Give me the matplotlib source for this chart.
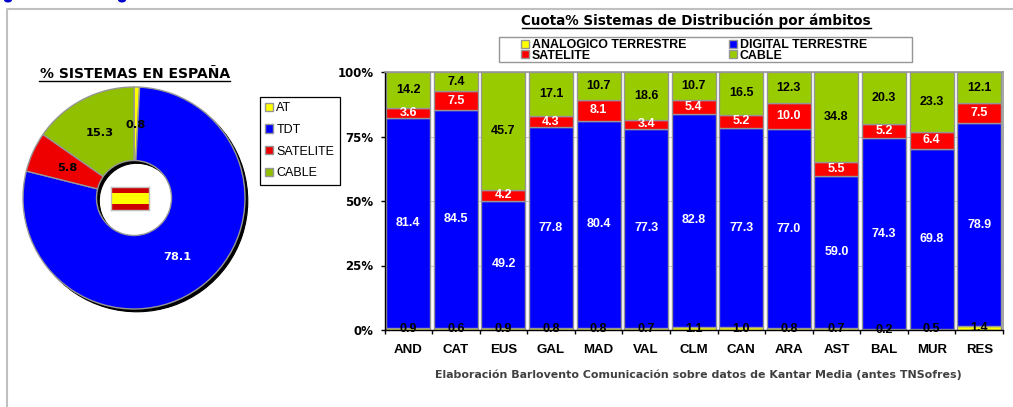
import matplotlib
matplotlib.use("Agg")
import matplotlib.pyplot as plt
from matplotlib.patches import Rectangle, Ellipse
import numpy as np

W, H = 1013, 407

# pie data
pie_labels = ["AT", "TDT", "SATELITE", "CABLE"]
pie_values = [0.8, 78.1, 5.8, 15.3]

# stacked bars data
regions = ["AND", "CAT", "EUS", "GAL", "MAD", "VAL", "CLM", "CAN", "ARA", "AST", "BAL", "MUR", "RES"]
analogico = [0.9, 0.6, 0.9, 0.8, 0.8, 0.7, 1.1, 1.0, 0.8, 0.7, 0.2, 0.5, 1.4]
digital = [81.4, 84.5, 49.2, 77.8, 80.4, 77.3, 82.8, 77.3, 77.0, 59.0, 74.3, 69.8, 78.9]
satelite = [3.6, 7.5, 4.2, 4.3, 8.1, 3.4, 5.4, 5.2, 10.0, 5.5, 5.2, 6.4, 7.5]
cable = [14.2, 7.4, 45.7, 17.1, 10.7, 18.6, 10.7, 16.5, 12.3, 34.8, 20.3, 23.3, 12.1]

YELLOW = "#ffff00"
BLUE = "#0000ff"
RED = "#ff0000"
GREEN = "#99cc00"
EDGE = "#969696"
SANS = "Liberation Sans"
WIDE = "DejaVu Sans"


def px_axes(fig, left, top, right, bottom, **kw):
    return fig.add_axes([left / W, 1 - bottom / H, (right - left) / W, (bottom - top) / H], **kw)


fig = plt.figure(figsize=(W / 100, H / 100), dpi=100)

# frame around the whole thing
fig.add_artist(plt.Line2D([7 / W, 7 / W, 1], [0, 1 - 9 / H, 1 - 9 / H], color="#c0c0c0", lw=1.5))

# blue scraps of the page above the frame
for gx in [8, 122]:
    fig.add_artist(Ellipse((gx / W, 1), 8 / W, 5 / H, transform=fig.transFigure, facecolor="#0000cc", linewidth=0))

# pie
cx, cy, rad = 134, 198, 111
axp = px_axes(fig, cx - 1.2 * rad, cy - 1.2 * rad, cx + 1.2 * rad, cy + 1.2 * rad)
ring = 1 - 37.5 / rad
axp.pie(pie_values, colors=["black"] * 4, startangle=90, counterclock=False, center=(0.025, -0.025),
        radius=1, wedgeprops=dict(width=ring, edgecolor="black", linewidth=0.8), frame=True)
wedges, texts, autotexts = axp.pie(
    pie_values, colors=[YELLOW, BLUE, "#ee0000", "#90c000"], startangle=90, counterclock=False, radius=1,
    wedgeprops=dict(width=ring, edgecolor=EDGE, linewidth=1.0),
    autopct="%.1f", pctdistance=0.66, frame=True,
    textprops=dict(fontsize=8.2, fontweight="bold", family=WIDE),
)
for t, c in zip(autotexts, ["black", "white", "black", "black"]):
    t.set_color(c)
axp.set_xlim(-1.2, 1.2)
axp.set_ylim(-1.2, 1.2)
axp.axis("off")

# flag in the hole
flag = px_axes(fig, 111, 187, 149, 210)
flag.set_xlim(0, 1)
flag.set_ylim(0, 1)
flag.set_xticks([])
flag.set_yticks([])
for s in flag.spines.values():
    s.set_color("#c0c0c0")
    s.set_linewidth(1)
flag.add_patch(Rectangle((0, 0), 1, 1, facecolor="#cc0000", linewidth=0))
flag.add_patch(Rectangle((0, 0.27), 1, 0.46, facecolor=YELLOW, linewidth=0))

fig.text(135 / W, 1 - 74 / H, "% SISTEMAS EN ESPAÑA", ha="center", va="center",
         fontsize=10, fontweight="bold", family=WIDE, color="black")
fig.add_artist(plt.Line2D([39 / W, 230 / W], [1 - 81 / H, 1 - 81 / H], color="black", lw=1))

leg1 = fig.legend(wedges, pie_labels, loc="upper left", bbox_to_anchor=(260 / W, 1 - 97 / H), borderaxespad=0,
                  prop=dict(family=SANS, size=9), fancybox=False, framealpha=1, edgecolor="black",
                  handlelength=0.64, handleheight=0.64, handletextpad=0.25, labelspacing=0.78,
                  borderpad=0.42)
leg1.get_frame().set_linewidth(0.9)
for h in leg1.legend_handles:
    h.set_edgecolor(EDGE)

# stacked bars
ax = px_axes(fig, 384.5, 72, 1003, 330)
x = np.arange(len(regions))
bottom = np.zeros(len(regions))
series = [analogico, digital, satelite, cable]
colors = [YELLOW, BLUE, RED, GREEN]
names = ["ANALOGICO TERRESTRE", "DIGITAL TERRESTRE", "SATELITE", "CABLE"]
txtcol = ["black", "white", "white", "black"]
handles = []
ax.set_axisbelow(True)
ax.grid(axis="y", color="#c0c0c0", lw=0.6)
for vals, col, name, tc in zip(series, colors, names, txtcol):
    vals = np.array(vals)
    bars = ax.bar(x, vals, 0.925, bottom=bottom, color=col, edgecolor=EDGE, linewidth=1.0, label=name)
    handles.append(bars)
    for xi, b, v in zip(x, bottom, vals):
        ax.text(xi, b + v / 2, "%.1f" % v, ha="center", va="center", color=tc,
                fontsize=9, fontweight="bold", family=SANS)
    bottom = bottom + vals

ax.set_xlim(-0.5, len(regions) - 0.5)
ax.set_ylim(0, 100)
ax.set_yticks([0, 25, 50, 75, 100])
ax.set_yticklabels(["0%", "25%", "50%", "75%", "100%"], fontsize=8.5, fontweight="bold", family=WIDE)
ax.set_xticks(np.arange(len(regions) + 1) - 0.5, minor=False)
ax.set_xticklabels([])
ax.set_xticks(x, minor=True)
ax.set_xticklabels(regions, minor=True, fontsize=9.5, fontweight="bold", family=SANS)
ax.tick_params(axis="x", which="minor", length=0, pad=10)
ax.tick_params(axis="x", which="major", length=3, width=1, direction="out")
ax.tick_params(axis="y", length=3, width=1, pad=5)
ax.spines["top"].set_color(EDGE)
ax.spines["right"].set_color(EDGE)
ax.spines["top"].set_linewidth(1.2)
ax.spines["right"].set_linewidth(1.2)
ax.spines["left"].set_linewidth(1)
ax.spines["bottom"].set_linewidth(1)

fig.text(696 / W, 1 - 21 / H, "Cuota% Sistemas de Distribución por ámbitos", ha="center", va="center",
         fontsize=9.75, fontweight="bold", family=WIDE)
fig.add_artist(plt.Line2D([522 / W, 871 / W], [1 - 28 / H, 1 - 28 / H], color="black", lw=1))

# legend box is wider than its entries, so it is drawn apart
fig.add_artist(Rectangle((499 / W, 1 - 62 / H), 413 / W, 25 / H, transform=fig.transFigure,
                         facecolor="white", edgecolor=EDGE, linewidth=1))
# row order in the legend, columns fill first
order = [0, 2, 1, 3]
leg2 = fig.legend([handles[i] for i in order], [names[i] for i in order], ncol=2, loc="upper left",
                  bbox_to_anchor=(521 / W, 1 - 39.5 / H), borderaxespad=0, frameon=False,
                  prop=dict(family=SANS, size=8.9, weight="bold"),
                  handlelength=0.65, handleheight=0.65, handletextpad=0.25, labelspacing=-0.15,
                  columnspacing=3.4, borderpad=0)

fig.text(698 / W, 1 - 375 / H, "Elaboración Barlovento Comunicación sobre datos de Kantar Media (antes TNSofres)",
         ha="center", va="center", fontsize=7.9, fontweight="bold", family=WIDE, color="#404040")

fig.savefig("out.png", dpi=100)
